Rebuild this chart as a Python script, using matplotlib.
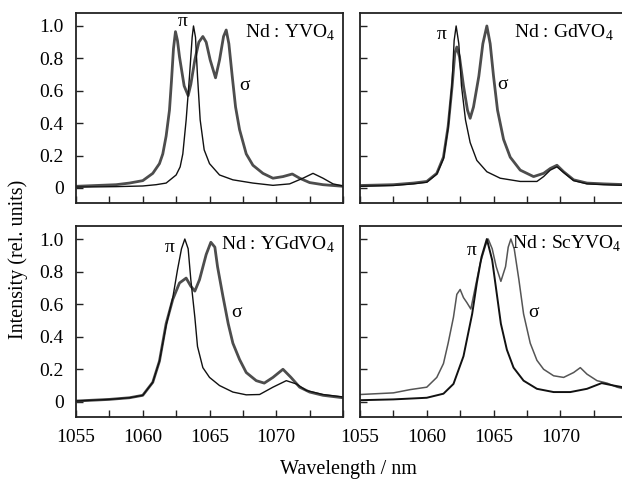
import matplotlib.pyplot as plt
import numpy as np

plt.rcParams['font.family'] = ['Liberation Serif', 'DejaVu Serif']
plt.rcParams['mathtext.fontset'] = 'custom'
plt.rcParams['mathtext.rm'] = 'Liberation Serif'

# Nd:YVO4
yvo_sigma_wl = [1055.0, 1056.5, 1058.0, 1059.0, 1060.0, 1060.75, 1061.25, 1061.5, 1061.75, 1062.0,
                1062.15, 1062.3, 1062.45, 1062.6, 1062.75, 1063.1, 1063.4, 1063.6, 1063.9, 1064.2,
                1064.5, 1064.75, 1065.05, 1065.45, 1065.75, 1066.05, 1066.25, 1066.45, 1066.7, 1066.95,
                1067.25, 1067.75, 1068.25, 1069.0, 1069.75, 1070.5, 1071.2, 1071.75, 1072.5, 1073.5, 1075.0]
yvo_sigma = [0.01, 0.015, 0.02, 0.03, 0.045, 0.09, 0.15, 0.21, 0.32, 0.48,
             0.66, 0.86, 0.965, 0.91, 0.81, 0.63, 0.57, 0.64, 0.79, 0.90,
             0.935, 0.90, 0.79, 0.68, 0.79, 0.935, 0.975, 0.89, 0.69, 0.50,
             0.36, 0.21, 0.14, 0.09, 0.06, 0.07, 0.086, 0.06, 0.033, 0.02, 0.01]
yvo_pi_wl = [1055.0, 1058.0, 1060.0, 1061.0, 1061.75, 1062.5, 1062.8, 1063.0, 1063.25, 1063.5,
             1063.7, 1063.8, 1063.95, 1064.1, 1064.3, 1064.6, 1065.0, 1065.75, 1066.75, 1068.25,
             1069.75, 1071.0, 1072.0, 1072.75, 1073.5, 1074.25, 1075.0]
yvo_pi = [0.005, 0.008, 0.012, 0.02, 0.03, 0.08, 0.13, 0.21, 0.42, 0.69,
          0.93, 1.0, 0.93, 0.69, 0.42, 0.235, 0.15, 0.08, 0.05, 0.03,
          0.016, 0.025, 0.06, 0.09, 0.06, 0.025, 0.012]

# Nd:GdVO4
gdvo_sigma_wl = [1055.0, 1057.5, 1059.0, 1060.0, 1060.75, 1061.25, 1061.6, 1061.9, 1062.1, 1062.25,
                 1062.45, 1062.75, 1063.05, 1063.25, 1063.5, 1063.9, 1064.2, 1064.5, 1064.75, 1065.0,
                 1065.3, 1065.75, 1066.25, 1067.0, 1068.0, 1068.75, 1069.25, 1069.75, 1070.25, 1071.0,
                 1072.0, 1073.25, 1075.0]
gdvo_sigma = [0.015, 0.02, 0.03, 0.04, 0.09, 0.19, 0.38, 0.63, 0.83, 0.87,
              0.81, 0.63, 0.48, 0.43, 0.50, 0.69, 0.89, 1.0, 0.89, 0.69,
              0.48, 0.30, 0.19, 0.11, 0.07, 0.09, 0.12, 0.14, 0.10, 0.05,
              0.03, 0.025, 0.02]
gdvo_pi_wl = [1055.0, 1057.5, 1059.0, 1060.0, 1060.75, 1061.25, 1061.6, 1061.9, 1062.05, 1062.2,
              1062.4, 1062.6, 1062.9, 1063.25, 1063.75, 1064.5, 1065.5, 1067.0, 1068.25, 1068.75,
              1069.25, 1069.75, 1070.25, 1071.0, 1072.0, 1073.25, 1075.0]
gdvo_pi = [0.01, 0.015, 0.025, 0.035, 0.085, 0.18, 0.37, 0.65, 0.91, 1.0,
           0.89, 0.63, 0.42, 0.28, 0.17, 0.10, 0.06, 0.04, 0.04, 0.07,
           0.11, 0.13, 0.095, 0.045, 0.025, 0.02, 0.015]

# Nd:YGdVO4
ygdvo_sigma_wl = [1055.0, 1057.5, 1059.0, 1060.0, 1060.75, 1061.25, 1061.75, 1062.25, 1062.75, 1063.25,
                  1063.6, 1063.9, 1064.25, 1064.75, 1065.1, 1065.4, 1065.6, 1066.0, 1066.4, 1066.75,
                  1067.25, 1067.75, 1068.5, 1069.1, 1069.75, 1070.5, 1071.1, 1071.75, 1072.5, 1073.5, 1075.0]
ygdvo_sigma = [0.005, 0.015, 0.025, 0.04, 0.12, 0.25, 0.48, 0.63, 0.73, 0.76,
               0.71, 0.68, 0.75, 0.905, 0.98, 0.95, 0.83, 0.65, 0.48, 0.36,
               0.26, 0.18, 0.13, 0.115, 0.15, 0.20, 0.15, 0.09, 0.06, 0.04, 0.025]
ygdvo_pi_wl = [1055.0, 1057.5, 1059.0, 1060.0, 1060.75, 1061.25, 1061.75, 1062.25, 1062.6, 1062.9,
               1063.15, 1063.4, 1063.6, 1063.9, 1064.1, 1064.5, 1065.0, 1065.75, 1066.75, 1067.75,
               1068.75, 1069.75, 1070.75, 1071.5, 1072.25, 1073.5, 1075.0]
ygdvo_pi = [0.005, 0.015, 0.025, 0.04, 0.12, 0.25, 0.47, 0.64, 0.81, 0.94,
            1.0, 0.94, 0.75, 0.52, 0.34, 0.21, 0.15, 0.10, 0.06, 0.043,
            0.045, 0.09, 0.13, 0.11, 0.07, 0.045, 0.03]

# Nd:ScYVO4
scyvo_sigma_wl = [1055.0, 1057.5, 1058.75, 1060.0, 1060.75, 1061.25, 1061.6, 1062.0, 1062.25, 1062.5,
                  1062.75, 1063.0, 1063.3, 1063.6, 1064.0, 1064.4, 1064.6, 1064.9, 1065.2, 1065.55,
                  1065.9, 1066.1, 1066.3, 1066.55, 1066.9, 1067.25, 1067.75, 1068.25, 1068.75, 1069.5,
                  1070.25, 1071.0, 1071.5, 1072.0, 1072.75, 1073.5, 1074.25, 1075.0]
scyvo_sigma = [0.045, 0.055, 0.075, 0.09, 0.15, 0.235, 0.36, 0.52, 0.66, 0.69,
               0.64, 0.61, 0.57, 0.69, 0.85, 0.96, 1.0, 0.94, 0.83, 0.74,
               0.83, 0.95, 1.0, 0.94, 0.75, 0.54, 0.36, 0.255, 0.20, 0.16,
               0.15, 0.18, 0.21, 0.17, 0.13, 0.115, 0.09, 0.075]
scyvo_pi_wl = [1055.0, 1057.5, 1060.0, 1061.25, 1062.0, 1062.75, 1063.4, 1063.75, 1064.1, 1064.5,
               1064.9, 1065.2, 1065.55, 1066.0, 1066.5, 1067.25, 1068.25, 1069.5, 1070.75, 1072.0,
               1073.1, 1074.0, 1075.0]
scyvo_pi = [0.01, 0.015, 0.025, 0.05, 0.11, 0.28, 0.54, 0.73, 0.89, 1.0,
            0.87, 0.69, 0.48, 0.32, 0.21, 0.13, 0.08, 0.06, 0.06, 0.08,
            0.115, 0.10, 0.085]

panel_names = ['Nd : YVO$_4$', 'Nd : GdVO$_4$', 'Nd : YGdVO$_4$', 'Nd : ScYVO$_4$']

fig = plt.figure(figsize=(6.22, 4.8), dpi=100)

# ejes colocados a mano (el panel derecho se sale un poco de la figura, como en el original)
rects = [[0.1222, 0.5771, 0.4293, 0.3958],
         [0.5788, 0.5771, 0.4293, 0.3958],
         [0.1222, 0.1313, 0.4293, 0.3979],
         [0.5788, 0.1313, 0.4293, 0.3979]]
sigmas = [(yvo_sigma_wl, yvo_sigma), (gdvo_sigma_wl, gdvo_sigma),
          (ygdvo_sigma_wl, ygdvo_sigma), (scyvo_sigma_wl, scyvo_sigma)]
pis = [(yvo_pi_wl, yvo_pi), (gdvo_pi_wl, gdvo_pi),
       (ygdvo_pi_wl, ygdvo_pi), (scyvo_pi_wl, scyvo_pi)]
pi_pos = [(1063.0, 1.03), (1061.1, 0.95), (1062.0, 0.95), (1063.4, 0.93)]
sigma_pos = [(1067.6, 0.63), (1065.7, 0.64), (1067.0, 0.55), (1068.0, 0.55)]
name_pos = [(0.97, 0.893), (0.95, 0.893), (0.97, 0.90), (0.98, 0.907)]

xticks = np.arange(1055, 1075.1, 2.5)
xlabels = ['%d' % t if (t % 5 == 0 and t < 1075) else '' for t in xticks]

for i in range(4):
    ax = fig.add_axes(rects[i])
    if i == 3:
        ax.plot(sigmas[i][0], sigmas[i][1], color='#555555', linewidth=1.1)
        ax.plot(pis[i][0], pis[i][1], color='#111111', linewidth=1.4)
    else:
        ax.plot(sigmas[i][0], sigmas[i][1], color='#4d4d4d', linewidth=2.0)
        ax.plot(pis[i][0], pis[i][1], color='#111111', linewidth=1.0)
    ax.set_xlim(1055, 1075)
    ax.set_ylim(-0.093, 1.08)
    ax.set_xticks(xticks)
    ax.set_yticks([0, 0.2, 0.4, 0.6, 0.8, 1.0])
    ax.tick_params(direction='in', length=5, width=1.0, labelsize=14, pad=9, color='#222222')
    if i < 2:
        ax.set_xticklabels([])
    else:
        ax.set_xticklabels(xlabels)
    if i % 2 == 1:
        ax.set_yticklabels([])
    else:
        ax.set_yticklabels(['0', '0.2', '0.4', '0.6', '0.8', '1.0'])
    for s in ax.spines.values():
        s.set_linewidth(1.3)
        s.set_color('#222222')
    ax.text(pi_pos[i][0], pi_pos[i][1], 'π', fontsize=14, ha='center', va='center')
    ax.text(sigma_pos[i][0], sigma_pos[i][1], 'σ', fontsize=14, ha='center', va='center')
    ax.text(name_pos[i][0], name_pos[i][1], panel_names[i], fontsize=14,
            ha='right', va='center', transform=ax.transAxes)

fig.text(0.029, 0.46, 'Intensity (rel. units)', rotation=90, fontsize=14.5,
         ha='center', va='center')
fig.text(0.56, 0.021, 'Wavelength / nm', fontsize=14.5, ha='center', va='center')

plt.savefig('out.png', dpi=100)
